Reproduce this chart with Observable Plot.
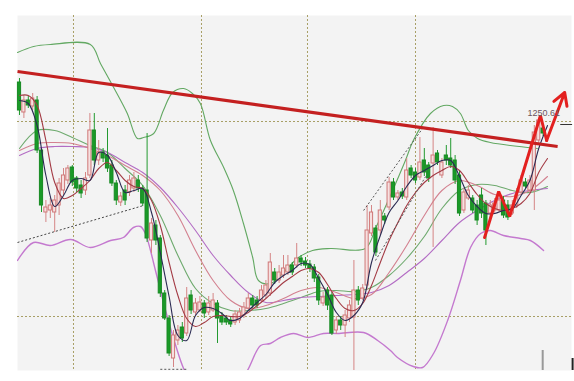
<!DOCTYPE html>
<html>
<head>
<meta charset="utf-8">
<script src="https://cdn.jsdelivr.net/npm/d3@7"></script>
<script src="https://cdn.jsdelivr.net/npm/@observablehq/plot@0.6"></script>
<style>
  html, body { margin: 0; padding: 0; background: #fff; }
  #chart svg { display: block; }
</style>
</head>
<body>
<div id="chart"></div>
<script>
// Daily candles, bar index 0..119
const open = [
  1259.5, 1252, 1255, 1253.5, 1255, 1242.5, 1227, 1227.5, 1227, 1228.75,
  1232.5, 1235, 1238.25, 1235.5, 1233.75, 1232.5, 1236.25, 1247.5, 1240, 1242,
  1241.25, 1238.75, 1234.25, 1229.5, 1232.5, 1232, 1233, 1235, 1233, 1232.5,
  1220, 1223.75, 1220.5, 1206.75, 1200.5, 1190.5, 1195, 1198.25, 1196.75, 1206.25,
  1202, 1202.5, 1204.25, 1202, 1202.5, 1204.25, 1201, 1200.5, 1200, 1199.5,
  1200, 1201.25, 1203, 1205.5, 1205, 1205, 1206.25, 1206.75, 1212, 1210,
  1211.25, 1212, 1213.75, 1213.75, 1215.5, 1214.75, 1214, 1213.25, 1210.75, 1204.25,
  1207.5, 1206.25, 1197.5, 1200, 1198.75, 1200.5, 1200.75, 1207.5, 1205.5, 1208.75,
  1221.75, 1223, 1222.5, 1226, 1228.25, 1234.5, 1230.75, 1232, 1230.75, 1238,
  1237, 1235.75, 1240, 1238.75, 1239.25, 1241.75, 1236.25, 1241.25, 1240.5, 1240,
  1236.25, 1227.5, 1230.5, 1230.5, 1228.75, 1231.25, 1229.25, 1226.75, 1227.5, 1227.5,
  1230, 1228.75, 1226.75, 1228.75, 1232, 1234.5, 1232.5, 1232.5, 1245, 1248
];
const close = [
  1252.5, 1255, 1253.75, 1255.5, 1242.5, 1228.75, 1228.25, 1228.75, 1230, 1234.25,
  1236.25, 1238, 1234.5, 1233, 1231.75, 1235.5, 1247.5, 1240, 1242, 1240.5,
  1238, 1234.25, 1230, 1231, 1230, 1235, 1235.5, 1233, 1229.25, 1220.5,
  1224.25, 1220, 1206.75, 1200.5, 1191.75, 1196.25, 1197.5, 1195.5, 1205.5, 1202.5,
  1204.25, 1204.5, 1201.75, 1204.25, 1205, 1200.5, 1199.5, 1199.5, 1199, 1201.5,
  1202, 1203.25, 1205.5, 1203.75, 1203.75, 1207.5, 1208.75, 1214.5, 1210, 1212,
  1213, 1213.75, 1212, 1215.5, 1214.5, 1213.75, 1213, 1210.5, 1205, 1205.75,
  1203.75, 1196.75, 1200, 1198.75, 1201.25, 1203.75, 1207.5, 1205, 1208, 1222.5,
  1227, 1217, 1227.5, 1225, 1234.5, 1230.75, 1231.75, 1231, 1237.5, 1236.25,
  1235, 1239.5, 1237, 1235.5, 1241.25, 1239.5, 1239.5, 1240, 1238.75, 1235,
  1226.75, 1232, 1232.5, 1227.5, 1225, 1226.75, 1222.5, 1228.75, 1229.25, 1230,
  1226.25, 1225.75, 1228.75, 1231.25, 1235, 1233.5, 1235, 1247, 1250, 1246.75
];
const high = [
  1260.5, 1256.25, 1256, 1256.75, 1256, 1243, 1230, 1230.5, 1231.25, 1235.5,
  1238, 1238.75, 1238.75, 1236, 1235, 1237, 1251.75, 1251.75, 1245, 1243,
  1248, 1240, 1235, 1232, 1233.75, 1236.25, 1237, 1236.25, 1233.75, 1246.75,
  1225.5, 1225, 1221.25, 1207.5, 1201.25, 1197.5, 1198.75, 1199.5, 1208.25, 1207.5,
  1205.5, 1206, 1205, 1206, 1206.75, 1205, 1202, 1201.25, 1201, 1202.5,
  1203, 1204.5, 1206.75, 1206.25, 1206, 1208.75, 1210, 1216.75, 1213, 1213.75,
  1216.25, 1216.25, 1214.5, 1219.25, 1216.25, 1215.75, 1215, 1214, 1211.5, 1207,
  1208.25, 1207, 1201, 1201, 1202.5, 1205, 1215, 1208.5, 1209, 1228.75,
  1228.75, 1223.75, 1230, 1226.75, 1235.75, 1235.5, 1232.5, 1233, 1240.5, 1238.75,
  1238, 1245.75, 1243, 1239.5, 1248.25, 1242.5, 1240.5, 1243.75, 1245.5, 1241.25,
  1237.5, 1233, 1233.75, 1231.25, 1230, 1233, 1230, 1230, 1230.5, 1231.25,
  1231, 1230, 1230, 1233, 1236.25, 1235.5, 1236.25, 1248.75, 1250.61, 1248.75
];
const low = [
  1251.25, 1250.5, 1253, 1252.5, 1241.75, 1227, 1224.5, 1225.5, 1222, 1226.25,
  1231.25, 1234, 1233.5, 1232, 1230.5, 1231.25, 1235.5, 1238.75, 1238.75, 1239.5,
  1237, 1233.5, 1228.75, 1228.5, 1228.75, 1231, 1232, 1232, 1228.5, 1219.5,
  1216.75, 1218.75, 1205.75, 1200, 1191, 1188.25, 1193.75, 1194.5, 1196, 1201.5,
  1201.25, 1202, 1200.5, 1201.25, 1202, 1194.25, 1198.75, 1198.75, 1198.25, 1198.75,
  1199.25, 1200.5, 1202.5, 1203, 1203, 1204.5, 1205.5, 1206, 1209, 1209.25,
  1210.5, 1211.25, 1211.25, 1213, 1213.5, 1213, 1212, 1209.5, 1203.75, 1203.5,
  1202.5, 1196.25, 1196.5, 1197.5, 1195.75, 1199.5, 1187.5, 1203.75, 1205, 1207.5,
  1221, 1216, 1221.25, 1224, 1227.5, 1230, 1230, 1230.25, 1230, 1235.5,
  1234.25, 1235, 1236, 1234.5, 1218.25, 1238.75, 1235.5, 1238.75, 1238, 1234,
  1226, 1226.75, 1230, 1226.75, 1223.75, 1225.5, 1218.75, 1225.5, 1226.5, 1227,
  1225.5, 1225, 1226.25, 1228, 1231.25, 1233, 1231.75, 1227.5, 1243.75, 1246
];

// Moving averages, sampled every 2 bars (0..120)
const ma5 = [
  1255, 1254.25, 1248.75, 1236.25, 1228.5, 1231.25, 1235, 1235.5, 1235, 1242,
  1241.25, 1237, 1232, 1232.5, 1233, 1227, 1217, 1206, 1196.25, 1195,
  1201.25, 1203.25, 1203, 1201.75, 1200, 1200.5, 1202.5, 1204.5, 1206.5, 1209.5,
  1211.25, 1212.5, 1214.25, 1214, 1210.5, 1206.5, 1202, 1200, 1201.25, 1204.5,
  1214.5, 1221.25, 1227, 1230, 1233.5, 1236.25, 1237.5, 1238.75, 1240, 1240,
  1236, 1231.25, 1228.5, 1226.75, 1226.75, 1227.5, 1228, 1231.25, 1235, 1243, 1248.75
];
const ma10 = [
  1256.25, 1256.25, 1253.75, 1245, 1234.5, 1230.5, 1231.25, 1233, 1235, 1238,
  1239.5, 1237.5, 1235, 1233.5, 1233, 1230, 1223.75, 1214.5, 1206.25, 1200.5,
  1198.5, 1199.5, 1201, 1201.25, 1201, 1201, 1202, 1203.75, 1205.5, 1207.5,
  1209.5, 1211, 1212.5, 1213, 1212, 1209, 1205.5, 1203, 1202.5, 1204.25,
  1208.75, 1214.5, 1220, 1224.5, 1228.75, 1232, 1234.5, 1236.25, 1237.5, 1238.5,
  1237.5, 1234.5, 1231.5, 1229.25, 1228, 1227.5, 1228, 1229.25, 1231.75, 1237, 1240.5
];
// Slower averages, sampled every 4 bars (0..120)
const ma20 = [
  1242.5, 1244.25, 1244.5, 1244.25, 1243, 1241.25, 1238.75, 1236.25, 1232.5, 1226.25,
  1217.5, 1210, 1205, 1203, 1203.75, 1205.5, 1207.5, 1208.25, 1207, 1205.5,
  1206.5, 1212, 1218.75, 1226.25, 1232.5, 1235, 1233.75, 1231.5, 1231, 1232.5, 1236
];
const ma30 = [
  1241.25, 1243, 1243.5, 1243.5, 1243.25, 1242, 1239.5, 1237, 1233.25, 1228.25,
  1222.5, 1216.25, 1211.25, 1207, 1204.5, 1205, 1205.75, 1206, 1206.25, 1206.5,
  1207, 1208.75, 1212, 1215.5, 1220, 1224.5, 1227.5, 1230, 1231.75, 1232.5, 1233
];
const midBand = [
  1243, 1247.5, 1247.5, 1245.75, 1243.75, 1242, 1238, 1233.75, 1226.25, 1216.25,
  1208, 1204.25, 1202.5, 1202.5, 1203, 1204.25, 1205.75, 1207.25, 1207.5, 1207.25,
  1208.25, 1211.25, 1215.5, 1221, 1228, 1232.5, 1234, 1233.75, 1232.5, 1232, 1233.5
];

// Bollinger envelope as [bar, price]
const upperBand = [
  [-0.45, 1267], [3.2, 1268.5], [7, 1269], [16.1, 1269], [18.4, 1264.25], [21.4, 1258.25],
  [24.5, 1251.75], [26.8, 1245.5], [28.2, 1245.75], [30.5, 1246.75], [32.7, 1252.5],
  [34.8, 1257], [37.3, 1258], [39.3, 1256.75], [41.1, 1254.25], [43.4, 1245],
  [46.4, 1238.25], [48.6, 1232.5], [50.9, 1224.25], [53, 1215.75], [54.3, 1210],
  [57, 1209.25], [60, 1212], [63.4, 1215.75], [66.6, 1217.5], [70.7, 1218], [78.6, 1218],
  [80.9, 1223], [84.3, 1231.25], [87.7, 1240], [89.5, 1245], [93.4, 1251.75],
  [96.4, 1253.75], [98.4, 1253.5], [100.2, 1251.75], [102, 1247.5], [104.1, 1245.5],
  [107, 1244.5], [115.5, 1243.25], [117.7, 1243]
];
const lowerBand = [
  [-0.45, 1215], [3.2, 1219.5], [7, 1218.75], [11.6, 1220.25], [16.1, 1218.25],
  [20.7, 1220], [23.6, 1220.75], [25.9, 1223.25], [27.5, 1223.5], [28.6, 1221.75],
  [30.9, 1212.5], [33.2, 1202.5], [35.5, 1193.75], [37.7, 1187], [41.1, 1181.25],
  [48, 1181.25], [51.8, 1187.5], [54.8, 1193.75], [57, 1194.25], [59.3, 1195.75],
  [62.3, 1196.75], [65.5, 1195.75], [69.1, 1196.75], [72.3, 1196.75], [78.2, 1197],
  [81.4, 1195], [84.3, 1192.5], [85.9, 1190.75], [89.5, 1188.5], [91.6, 1188.25],
  [94.1, 1191.75], [97.3, 1200], [100.2, 1210], [102.5, 1218.25], [104.8, 1221.75],
  [107, 1222.5], [110, 1221.25], [113.9, 1220.5], [116.1, 1220], [119.1, 1217.5]
];

// Drawn annotations as [bar, price]
const resistance = [[-0.45, 1262.25], [122.3, 1243.5]];
const supportDots = [[-0.45, 1219.5], [28.2, 1228.75]];
const channelTop = [[78.2, 1227.5], [91.6, 1248]];
const channelBottom = [[80.9, 1215], [92.3, 1236]];
const zigzag = [[105.7, 1220.75], [108.9, 1232.25], [111.4, 1226], [118.4, 1251.25], [119.8, 1245], [123.9, 1257]];
const lowDots = [[32, 1187.8], [38.2, 1187.8]];

const gridBars = [12.27, 41.36, 65.45, 90];
const gridPrices = [1249.75, 1201];

// Bar whose high carries the price label
const labelledBar = 118;

const candles = open.map((o, i) => ({
  bar: i, open: o, high: high[i], low: low[i], close: close[i], up: close[i] >= o
}));
const sampled = (values, step) => values.map((v, i) => ({bar: i * step, price: v}));
const pts = (arr) => arr.map(([bar, price]) => ({bar, price}));
const seg = (arr) => [{x1: arr[0][0], y1: arr[0][1], x2: arr[1][0], y2: arr[1][1]}];

const peakLabel = [{bar: labelledBar, price: high[labelledBar], label: high[labelledBar].toFixed(2)}];

const lineOpts = (stroke, width = 1.1) => ({x: "bar", y: "price", stroke, strokeWidth: width, curve: "catmull-rom", clip: true});
const lastLeg = zigzag.slice(-2);
const linkOpts = {x1: "x1", y1: "y1", x2: "x2", y2: "y2"};

const chart = Plot.plot({
  width: 574,
  height: 381,
  marginLeft: 17,
  marginRight: 3,
  marginTop: 15,
  marginBottom: 11,
  x: {domain: [-0.4545, 125.45], axis: null},
  y: {domain: [1187.5, 1276.25], axis: null},
  color: {type: "identity"},
  style: {background: "#fff", fontFamily: "Liberation Sans, Arial, sans-serif"},
  marks: [
    Plot.frame({fill: "#f3f3f3", stroke: "none"}),
    Plot.ruleX(gridBars, {stroke: "#a89f66", strokeDasharray: "2,2"}),
    Plot.ruleY(gridPrices, {stroke: "#a89f66", strokeDasharray: "2,2"}),

    Plot.line(pts(upperBand), lineOpts("#62a862")),
    Plot.line(pts(lowerBand), lineOpts("#c479cf", 1.4)),
    Plot.line(sampled(midBand, 4), lineOpts("#6eaa6e")),
    Plot.line(sampled(ma30, 4), lineOpts("#b36cc4")),
    Plot.line(sampled(ma20, 4), lineOpts("#d3808f")),

    Plot.ruleX(candles, {
      x: "bar", y1: "low", y2: "high",
      stroke: d => d.up ? "#d58585" : "#239a30", strokeWidth: 1, clip: true
    }),
    Plot.rect(candles, {
      x1: d => d.bar - 0.36, x2: d => d.bar + 0.36, y1: "open", y2: "close",
      fill: d => d.up ? "#f6e0e0" : "#1a9a28",
      stroke: d => d.up ? "#cf7878" : "#178a22", strokeWidth: 1
    }),

    Plot.line(sampled(ma10, 2), lineOpts("#a33a44")),
    Plot.line(sampled(ma5, 2), lineOpts("#2a2a52")),

    Plot.link(seg(supportDots), {...linkOpts, stroke: "#444", strokeDasharray: "2,2"}),
    Plot.link(seg(channelTop), {...linkOpts, stroke: "#555", strokeDasharray: "2,2"}),
    Plot.link(seg(channelBottom), {...linkOpts, stroke: "#555", strokeDasharray: "2,2"}),
    Plot.link(seg(lowDots), {...linkOpts, stroke: "#555", strokeDasharray: "2,2"}),

    Plot.link(seg(resistance), {...linkOpts, stroke: "#c42020", strokeWidth: 3.2}),

    Plot.line(pts(zigzag.slice(0, -1)), {x: "bar", y: "price", stroke: "#e3201f", strokeWidth: 3, strokeLinejoin: "miter"}),
    Plot.arrow(seg(lastLeg), {...linkOpts, stroke: "#e3201f", strokeWidth: 3, headLength: 7}),

    Plot.text(peakLabel, {
      x: "bar", y: "price", text: "label",
      dx: 5, dy: -5, fontSize: 9, fill: "#6b5560"
    }),

    // last-price tick and small edge markers
    Plot.ruleY([1249], {x1: 123, x2: 125.7, stroke: "#333"}),
    Plot.ruleX([118.9], {y1: 1187.5, y2: 1192.5, stroke: "#999", strokeWidth: 2}),
    Plot.ruleX([125.7], {y1: 1187.5, y2: 1190.5, stroke: "#222", strokeWidth: 2})
  ]
});

document.getElementById("chart").appendChild(chart);
</script>
</body>
</html>
